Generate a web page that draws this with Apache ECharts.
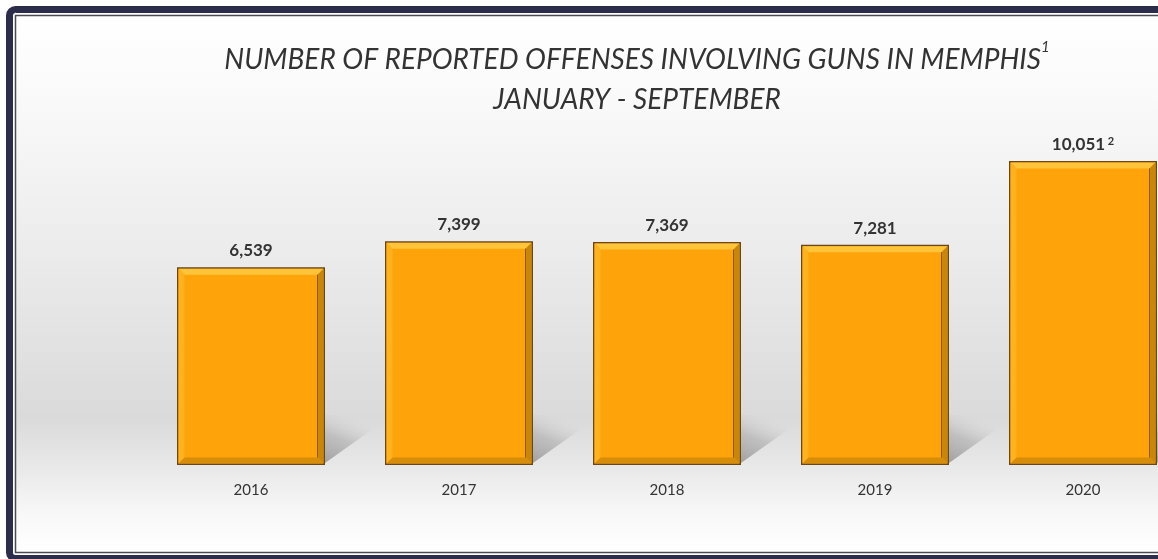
<!DOCTYPE html>
<html>
<head>
<meta charset="utf-8">
<script src="https://cdn.jsdelivr.net/npm/echarts@6/dist/echarts.min.js"></script>
<style>
  html, body { margin: 0; padding: 0; background: #fff; }
  #chart { width: 1158px; height: 559px; }
</style>
</head>
<body>
<div id="chart"></div>
<script>
// data
const years = ["2016", "2017", "2018", "2019", "2020"];
const offenses = [6539, 7399, 7369, 7281, 10051];
const footnotes = ["", "", "", "", "2"];

const titleLine1 = "NUMBER OF REPORTED OFFENSES INVOLVING GUNS IN MEMPHIS";
const titleNote = "1";
const titleLine2 = "JANUARY - SEPTEMBER";

const FONT = "Lato";
const BAR_W = 148;
const navy = "#2b2d4b";

let chart = echarts.init(document.getElementById("chart"));

// bevel on top of each bar
const renderBevel = (params, api) => {
    let idx = api.value(0);
    let top = api.coord([idx, api.value(1)]);
    let base = api.coord([idx, 0]);
    let x0 = top[0] - BAR_W / 2 + 1.5;
    let x1 = top[0] + BAR_W / 2 - 1.5;
    let y0 = top[1] + 1.5;
    let y1 = base[1] - 1.5;
    let b = 6;
    return {
        type: "group",
        silent: true,
        children: [
            {
                type: "polygon",
                shape: { points: [[x0, y0], [x1, y0], [x1 - b, y0 + b], [x0 + b, y0 + b]] },
                style: { fill: "#ffc43a" }
            },
            {
                type: "polygon",
                shape: { points: [[x0, y0], [x0 + b, y0 + b], [x0 + b, y1 - b], [x0, y1]] },
                style: { fill: "#ffb21c" }
            },
            {
                type: "polygon",
                shape: { points: [[x1, y0], [x1, y1], [x1 - b, y1 - b], [x1 - b, y0 + b]] },
                style: { fill: "#c98608" }
            },
            {
                type: "polygon",
                shape: { points: [[x0, y1], [x0 + b, y1 - b], [x1 - b, y1 - b], [x1, y1]] },
                style: { fill: "#d58d0a" }
            },
            {
                type: "line",
                shape: { x1: x1 - b, y1: y0 + b, x2: x1 - b, y2: y1 - b },
                style: { stroke: "#8a5a12", lineWidth: 1 }
            }
        ]
    };
};

// floor shadow cast to the right of each bar
const renderShadow = (params, api) => {
    let idx = api.value(0);
    let base = api.coord([idx, 0]);
    let xr = base[0] + BAR_W / 2;
    let yb = base[1];
    return {
        type: "polygon",
        silent: true,
        shape: { points: [[xr, yb - 50], [xr + 62, yb - 50], [xr + 62, yb - 46], [xr, yb - 2]] },
        style: {
            fill: new echarts.graphic.LinearGradient(0, 1, 0.3, 0, [
                { offset: 0, color: "rgba(130,130,130,0.7)" },
                { offset: 0.55, color: "rgba(160,160,160,0.5)" },
                { offset: 1, color: "rgba(210,210,210,0.05)" }
            ])
        }
    };
};

const labelText = (i) => {
    let v = offenses[i].toLocaleString("en-US");
    return footnotes[i] ? "{v|" + v + "}{s| " + footnotes[i] + "}" : "{v|" + v + "}";
};

let option = {
    animation: false,
    textStyle: { fontFamily: FONT },
    title: {
        text: "{t|" + titleLine1 + "}{sup|" + titleNote + "}\n{t|" + titleLine2 + "}",
        left: 632,
        top: 35,
        textAlign: "center",
        textStyle: {
            fontWeight: "normal",
            rich: {
                t: { fontFamily: FONT, fontStyle: "italic", fontWeight: "normal", fontSize: 28, color: "#333", lineHeight: 40 },
                sup: { fontFamily: FONT, fontStyle: "italic", fontWeight: "normal", fontSize: 15, color: "#333", verticalAlign: "top", lineHeight: 40 }
            }
        }
    },
    graphic: [
        {
            type: "rect",
            z: -10,
            silent: true,
            shape: { x: 15, y: 15, width: 1200, height: 537 },
            style: {
                fill: new echarts.graphic.LinearGradient(0, 0, 0, 1, [
                    { offset: 0, color: "#ffffff" },
                    { offset: 0.15, color: "#fafafa" },
                    { offset: 0.45, color: "#ebebeb" },
                    { offset: 0.75, color: "#dadada" },
                    { offset: 0.84, color: "#e8e8e8" },
                    { offset: 0.93, color: "#f8f8f8" },
                    { offset: 1, color: "#ffffff" }
                ])
            }
        },
        {
            type: "rect",
            silent: true,
            shape: { x: 15.5, y: 15.5, width: 1200, height: 537 },
            style: { fill: null, stroke: "#4a4a55", lineWidth: 1.5 }
        },
        {
            type: "rect",
            silent: true,
            shape: { x: 9.5, y: 9.5, width: 1210, height: 549, r: 6 },
            style: { fill: null, stroke: navy, lineWidth: 7 }
        }
    ],
    grid: { left: 147, width: 1040, top: 102, height: 363, containLabel: false, outerBoundsMode: "none" },
    xAxis: {
        type: "category",
        data: years,
        axisLine: { show: false },
        axisTick: { show: false },
        axisLabel: { color: "#333", fontSize: 15, margin: 18, fontFamily: FONT }
    },
    yAxis: {
        type: "value",
        min: 0,
        max: 12000,
        show: false,
        splitLine: { show: false }
    },
    series: [
        {
            type: "custom",
            z: 1,
            renderItem: renderShadow,
            data: offenses.map((v, i) => [i, v])
        },
        {
            type: "bar",
            z: 2,
            data: offenses,
            barWidth: BAR_W,
            itemStyle: { color: "#ffa30a", borderColor: "#6b4616", borderWidth: 1.5 },
            label: {
                show: true,
                position: "top",
                distance: 8,
                formatter: (p) => labelText(p.dataIndex),
                rich: {
                    v: { fontFamily: FONT, fontWeight: "bold", fontSize: 17, color: "#333" },
                    s: { fontFamily: FONT, fontWeight: "bold", fontSize: 11, color: "#333", verticalAlign: "top" }
                }
            }
        },
        {
            type: "custom",
            z: 3,
            renderItem: renderBevel,
            data: offenses.map((v, i) => [i, v])
        }
    ]
};

chart.setOption(option);
</script>
</body>
</html>
